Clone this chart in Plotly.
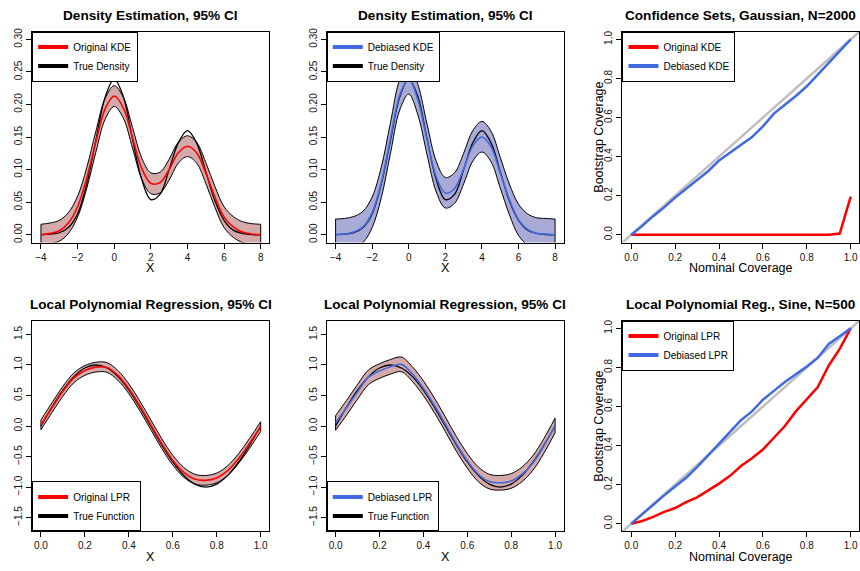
import plotly.graph_objects as go

W, H = 860, 571
FONT = "Liberation Sans, Arial, Helvetica, sans-serif"

# ---------------- data ----------------
X_DENS = [-4.0, -3.5, -3.0, -2.5, -2.0, -1.5, -1.0, -0.5, 0.0, 0.5, 1.0, 1.5, 2.0,
          2.5, 3.0, 3.5, 4.0, 4.5, 5.0, 5.5, 6.0, 6.5, 7.0, 7.5, 8.0]
TRUE_DENS = [0.000, 0.001, 0.003, 0.011, 0.032, 0.078, 0.145, 0.211, 0.239, 0.212, 0.147, 0.085, 0.054,
             0.062, 0.100, 0.141, 0.160, 0.141, 0.097, 0.052, 0.022, 0.007, 0.002, 0.000, 0.000]
KDE_ORIG = [0.000, 0.002, 0.006, 0.018, 0.043, 0.087, 0.143, 0.193, 0.213, 0.195, 0.149, 0.102, 0.079,
            0.080, 0.100, 0.126, 0.136, 0.126, 0.095, 0.058, 0.027, 0.012, 0.004, 0.001, 0.000]
KDE_ORIG_HI = [0.016, 0.018, 0.022, 0.034, 0.059, 0.103, 0.159, 0.209, 0.229, 0.211, 0.165, 0.118, 0.095,
               0.096, 0.116, 0.142, 0.152, 0.142, 0.111, 0.074, 0.043, 0.028, 0.020, 0.017, 0.016]
KDE_ORIG_LO = [-0.016, -0.014, -0.010, 0.002, 0.027, 0.071, 0.127, 0.177, 0.197, 0.179, 0.133, 0.086, 0.063,
               0.064, 0.084, 0.110, 0.120, 0.110, 0.079, 0.042, 0.011, -0.004, -0.012, -0.015, -0.016]
KDE_DEB = [0.000, 0.001, 0.004, 0.012, 0.034, 0.080, 0.148, 0.214, 0.239, 0.207, 0.146, 0.089, 0.064,
           0.071, 0.101, 0.136, 0.150, 0.135, 0.095, 0.054, 0.023, 0.008, 0.002, 0.001, 0.000]
KDE_DEB_HI = [0.024, 0.025, 0.028, 0.036, 0.058, 0.104, 0.172, 0.238, 0.263, 0.231, 0.170, 0.113, 0.088,
              0.095, 0.125, 0.160, 0.174, 0.159, 0.119, 0.078, 0.047, 0.032, 0.026, 0.025, 0.024]
KDE_DEB_LO = [-0.024, -0.023, -0.020, -0.012, 0.011, 0.057, 0.125, 0.191, 0.216, 0.184, 0.123, 0.066, 0.041,
              0.048, 0.078, 0.113, 0.127, 0.112, 0.072, 0.031, -0.001, -0.016, -0.022, -0.023, -0.024]

X_REG = [0.00, 0.05, 0.10, 0.15, 0.20, 0.25, 0.30, 0.35, 0.40, 0.45, 0.50,
         0.55, 0.60, 0.65, 0.70, 0.75, 0.80, 0.85, 0.90, 0.95, 1.00]
TRUE_FUNC = [0.000, 0.309, 0.588, 0.809, 0.951, 1.000, 0.951, 0.809, 0.588, 0.309, 0.000,
             -0.309, -0.588, -0.809, -0.951, -1.000, -0.951, -0.809, -0.588, -0.309, 0.000]
LPR_ORIG = [0.02, 0.30, 0.57, 0.79, 0.91, 0.965, 0.96, 0.83, 0.61, 0.33, 0.02,
            -0.29, -0.56, -0.76, -0.87, -0.89, -0.85, -0.73, -0.53, -0.28, -0.01]
LPR_ORIG_HI = [0.10, 0.38, 0.65, 0.87, 0.99, 1.045, 1.04, 0.91, 0.69, 0.41, 0.10,
               -0.21, -0.48, -0.68, -0.79, -0.81, -0.77, -0.65, -0.45, -0.20, 0.07]
LPR_ORIG_LO = [-0.06, 0.22, 0.49, 0.71, 0.83, 0.885, 0.88, 0.75, 0.53, 0.25, -0.06,
               -0.37, -0.64, -0.84, -0.95, -0.97, -0.93, -0.81, -0.61, -0.36, -0.09]
LPR_DEB = [0.05, 0.30, 0.56, 0.80, 0.90, 0.97, 1.01, 0.85, 0.62, 0.34, 0.03,
           -0.29, -0.57, -0.79, -0.91, -0.93, -0.90, -0.79, -0.60, -0.32, 0.01]
LPR_DEB_HI = [0.17, 0.42, 0.68, 0.92, 1.02, 1.09, 1.13, 0.97, 0.74, 0.46, 0.15,
              -0.17, -0.45, -0.67, -0.79, -0.81, -0.78, -0.67, -0.48, -0.20, 0.13]
LPR_DEB_LO = [-0.07, 0.18, 0.44, 0.68, 0.78, 0.85, 0.89, 0.73, 0.50, 0.22, -0.09,
              -0.41, -0.69, -0.91, -1.03, -1.05, -1.02, -0.91, -0.72, -0.44, -0.11]

NOMINAL = [0.00, 0.05, 0.10, 0.15, 0.20, 0.25, 0.30, 0.35, 0.40, 0.45, 0.50,
           0.55, 0.60, 0.65, 0.70, 0.75, 0.80, 0.85, 0.90, 0.95, 1.00]
COV_KDE_ORIG = [0.0, 0.0, 0.0, 0.0, 0.0, 0.0, 0.0, 0.0, 0.0, 0.0, 0.0,
                0.0, 0.0, 0.0, 0.0, 0.0, 0.0, 0.0, 0.0, 0.006, 0.195]
COV_KDE_DEB = [0.0, 0.045, 0.095, 0.14, 0.19, 0.235, 0.28, 0.325, 0.38, 0.42, 0.46,
               0.50, 0.555, 0.62, 0.665, 0.71, 0.76, 0.82, 0.88, 0.935, 1.0]
COV_LPR_ORIG = [0.0, 0.014, 0.035, 0.06, 0.08, 0.11, 0.135, 0.17, 0.205, 0.245, 0.295,
                0.335, 0.38, 0.44, 0.50, 0.575, 0.64, 0.70, 0.81, 0.895, 1.0]
COV_LPR_DEB = [0.0, 0.05, 0.10, 0.145, 0.19, 0.235, 0.29, 0.35, 0.41, 0.465, 0.53,
               0.575, 0.635, 0.68, 0.725, 0.765, 0.805, 0.85, 0.92, 0.96, 1.0]
DIAG = [-0.2, 1.2]

TITLES = ["Density Estimation, 95% CI", "Density Estimation, 95% CI",
          "Confidence Sets, Gaussian, N=2000",
          "Local Polynomial Regression, 95% CI", "Local Polynomial Regression, 95% CI",
          "Local Polynomial Reg., Sine, N=500"]
DENS_TICKS = [-4, -2, 0, 2, 4, 6, 8]
DENS_YTICKS = [0.00, 0.05, 0.10, 0.15, 0.20, 0.25, 0.30]
REG_YTICKS = [-1.5, -1.0, -0.5, 0.0, 0.5, 1.0, 1.5]
UNIT_TICKS = [0.0, 0.2, 0.4, 0.6, 0.8, 1.0]

# ---------------- styles ----------------
RED = "#FF0000"
BLUE = "#4169E1"
GRAY = "#BEBEBE"
ROSE = "#D4A9A9"
LAVENDER = "#A9AAD6"

# plot boxes in pixels
COLS = [(32.2, 269.8), (327.2, 564.5), (623.2, 860.0)]
ROWS = [(27.8, 240.2), (318.8, 531.2)]


def fx(p):
    return p / W


def fy(p):
    return 1 - p / H


fig = go.Figure()
axes = {}
idx = 0
for r in range(2):
    for c in range(3):
        idx += 1
        axes[idx] = ("x" if idx == 1 else f"x{idx}", "y" if idx == 1 else f"y{idx}")


def add_band(n, xs, lo, hi, fill):
    xa, ya = axes[n]
    fig.add_trace(go.Scatter(x=xs, y=lo, mode="lines", line=dict(color="black", width=1, shape="spline"),
                             xaxis=xa, yaxis=ya, showlegend=False, hoverinfo="skip"))
    fig.add_trace(go.Scatter(x=xs, y=hi, mode="lines", fill="tonexty", fillcolor=fill,
                             line=dict(color="black", width=1, shape="spline"),
                             xaxis=xa, yaxis=ya, showlegend=False, hoverinfo="skip"))
    for k in (0, -1):
        fig.add_trace(go.Scatter(x=[xs[k], xs[k]], y=[lo[k], hi[k]], mode="lines",
                                 line=dict(color="black", width=1),
                                 xaxis=xa, yaxis=ya, showlegend=False, hoverinfo="skip"))


def add_line(n, xs, ys, color, width, shape="spline"):
    xa, ya = axes[n]
    fig.add_trace(go.Scatter(x=xs, y=ys, mode="lines", line=dict(color=color, width=width, shape=shape),
                             xaxis=xa, yaxis=ya, showlegend=False))


def add_legend_entry(n, name, color, legend):
    xa, ya = axes[n]
    fig.add_trace(go.Scatter(x=[None], y=[None], mode="lines", name=name,
                             line=dict(color=color, width=4), xaxis=xa, yaxis=ya,
                             showlegend=True, legend=legend))


# panel 1
add_band(1, X_DENS, KDE_ORIG_LO, KDE_ORIG_HI, ROSE)
add_line(1, X_DENS, TRUE_DENS, "black", 1.3)
add_line(1, X_DENS, KDE_ORIG, RED, 1.6)
add_legend_entry(1, "Original KDE", RED, "legend")
add_legend_entry(1, "True Density", "black", "legend")

# panel 2
add_band(2, X_DENS, KDE_DEB_LO, KDE_DEB_HI, LAVENDER)
add_line(2, X_DENS, TRUE_DENS, "black", 1.3)
add_line(2, X_DENS, KDE_DEB, BLUE, 1.6)
add_legend_entry(2, "Debiased KDE", BLUE, "legend2")
add_legend_entry(2, "True Density", "black", "legend2")

# panel 3
add_line(3, DIAG, DIAG, GRAY, 2.5, "linear")
add_line(3, NOMINAL, COV_KDE_ORIG, RED, 2.5, "linear")
add_line(3, NOMINAL, COV_KDE_DEB, BLUE, 2.5, "linear")
add_legend_entry(3, "Original KDE", RED, "legend3")
add_legend_entry(3, "Debiased KDE", BLUE, "legend3")

# panel 4
add_band(4, X_REG, LPR_ORIG_LO, LPR_ORIG_HI, ROSE)
add_line(4, X_REG, TRUE_FUNC, "black", 1.3)
add_line(4, X_REG, LPR_ORIG, RED, 1.6)
add_legend_entry(4, "Original LPR", RED, "legend4")
add_legend_entry(4, "True Function", "black", "legend4")

# panel 5
add_band(5, X_REG, LPR_DEB_LO, LPR_DEB_HI, ROSE)
add_line(5, X_REG, TRUE_FUNC, "black", 1.3)
add_line(5, X_REG, LPR_DEB, BLUE, 1.6)
add_legend_entry(5, "Debiased LPR", BLUE, "legend5")
add_legend_entry(5, "True Function", "black", "legend5")

# panel 6
add_line(6, DIAG, DIAG, GRAY, 2.5, "linear")
add_line(6, NOMINAL, COV_LPR_ORIG, RED, 2.5, "linear")
add_line(6, NOMINAL, COV_LPR_DEB, BLUE, 2.5, "linear")
add_legend_entry(6, "Original LPR", RED, "legend6")
add_legend_entry(6, "Debiased LPR", BLUE, "legend6")

# ---------------- layout ----------------
XRANGES = {1: [-4.48, 8.48], 2: [-4.48, 8.48], 3: [-0.04, 1.0378],
           4: [-0.04, 1.04], 5: [-0.04, 1.04], 6: [-0.04, 1.0378]}
YRANGES = {1: [-0.012, 0.312], 2: [-0.012, 0.312], 3: [-0.04, 1.04],
           4: [-1.728, 1.728], 5: [-1.728, 1.728], 6: [-0.04, 1.04]}
XTICKS = {1: DENS_TICKS, 2: DENS_TICKS, 3: UNIT_TICKS, 4: UNIT_TICKS, 5: UNIT_TICKS, 6: UNIT_TICKS}
YTICKS = {1: DENS_YTICKS, 2: DENS_YTICKS, 3: UNIT_TICKS, 4: REG_YTICKS, 5: REG_YTICKS, 6: UNIT_TICKS}
XFMT = {1: "d", 2: "d", 3: ".1f", 4: ".1f", 5: ".1f", 6: ".1f"}
YFMT = {1: ".2f", 2: ".2f", 3: ".1f", 4: ".1f", 5: ".1f", 6: ".1f"}

common = dict(showline=True, mirror=True, linecolor="black", linewidth=1, ticks="outside",
              ticklen=5, tickwidth=1, tickcolor="black", showgrid=False, zeroline=False,
              tickfont=dict(family=FONT, size=10, color="#111"))

layout = dict(width=W, height=H, margin=dict(l=0, r=0, t=0, b=0), paper_bgcolor="white",
              plot_bgcolor="white", font=dict(family=FONT, color="black"))
annotations = []
n = 0
for r in range(2):
    for c in range(3):
        n += 1
        xl, xr = COLS[c]
        yt, yb = ROWS[r]
        xname = "xaxis" if n == 1 else f"xaxis{n}"
        yname = "yaxis" if n == 1 else f"yaxis{n}"
        xa, ya = axes[n]
        layout[xname] = dict(domain=[fx(xl), fx(xr)], range=XRANGES[n], anchor=ya,
                             tickvals=XTICKS[n], tickformat=XFMT[n], **common)
        layout[yname] = dict(domain=[fy(yb), fy(yt)], range=YRANGES[n], anchor=xa,
                             tickvals=YTICKS[n], tickformat=YFMT[n], tickangle=-90, **common)
        cx = (xl + (860.5 if c == 2 else xr)) / 2
        annotations.append(dict(text="<b>" + TITLES[n - 1] + "</b>", x=fx(cx), y=fy(yt - 16.3),
                                xref="paper", yref="paper", showarrow=False,
                                xanchor="center", yanchor="middle",
                                font=dict(family=FONT, size=13.6, color="black")))
        xt = "Nominal Coverage" if c == 2 else "X"
        annotations.append(dict(text=xt, x=fx(cx), y=fy(yb + 26.0), xref="paper", yref="paper",
                                showarrow=False, xanchor="center", yanchor="middle",
                                font=dict(family=FONT, size=12.5, color="black")))
        if c == 2:
            annotations.append(dict(text="Bootstrap Coverage", x=fx(599.3), y=fy((yt + yb) / 2),
                                    xref="paper", yref="paper", showarrow=False, textangle=-90,
                                    xanchor="center", yanchor="middle",
                                    font=dict(family=FONT, size=12.5, color="black")))
layout["annotations"] = annotations

leg_common = dict(bgcolor="white", bordercolor="black", borderwidth=1, traceorder="normal",
                  font=dict(family=FONT, size=10, color="black"), itemwidth=30,
                  xref="paper", yref="paper", xanchor="left", tracegroupgap=0)
layout["legend"] = dict(x=fx(COLS[0][0]), y=fy(ROWS[0][0]), yanchor="top", **leg_common)
layout["legend2"] = dict(x=fx(COLS[1][0]), y=fy(ROWS[0][0]), yanchor="top", **leg_common)
layout["legend3"] = dict(x=fx(COLS[2][0]), y=fy(ROWS[0][0]), yanchor="top", **leg_common)
layout["legend4"] = dict(x=fx(COLS[0][0]), y=fy(ROWS[1][1]), yanchor="bottom", **leg_common)
layout["legend5"] = dict(x=fx(COLS[1][0]), y=fy(ROWS[1][1]), yanchor="bottom", **leg_common)
layout["legend6"] = dict(x=fx(COLS[2][0]), y=fy(ROWS[1][0]), yanchor="top", **leg_common)

fig.update_layout(**layout)
fig.write_html("out.html", config={"displayModeBar": False},
               post_script="document.body.style.margin='0';document.body.style.overflow='hidden';")
